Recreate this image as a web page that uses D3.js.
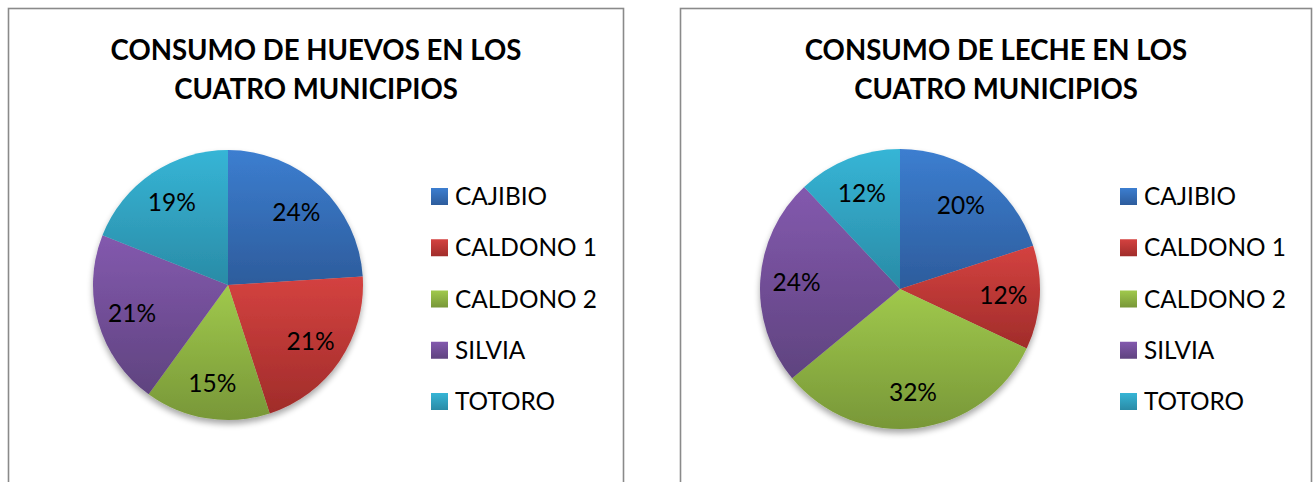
<!DOCTYPE html>
<html>
<head>
<meta charset="utf-8">
<script src="https://cdn.jsdelivr.net/npm/d3@7"></script>
<style>
  html, body { margin: 0; padding: 0; background: #ffffff; }
  svg { display: block; }
</style>
</head>
<body>
<svg id="chart" width="1315" height="482"></svg>
<script>
// Municipalities, shared by both pies and legends
const categories = ["CAJIBIO", "CALDONO 1", "CALDONO 2", "SILVIA", "TOTORO"];

// Egg consumption share (%)
const huevosValues = [24, 21, 15, 21, 19];
// Milk consumption share (%)
const lecheValues = [20, 12, 32, 24, 12];

const huevosTitle = ["CONSUMO DE HUEVOS EN LOS", "CUATRO MUNICIPIOS"];
const lecheTitle = ["CONSUMO DE LECHE EN LOS", "CUATRO MUNICIPIOS"];

// Light (top) and dark (bottom) shade of each slice fill
const colorsTop = ["#3c7ed0", "#d44240", "#a0c94c", "#8359ae", "#36b5d6"];
const colorsBottom = ["#2d5c9c", "#a02c2a", "#789738", "#5f437f", "#2a8ba6"];

const FONT = "Lato, 'Open Sans', sans-serif";
const svg = d3.select("#chart");
const defs = svg.append("defs");

// Vertical gradient per series colour
categories.forEach((c, i) => {
  const g = defs.append("linearGradient")
    .attr("id", "grad" + i)
    .attr("x1", 0).attr("y1", 0).attr("x2", 0).attr("y2", 1);
  g.append("stop").attr("offset", "0%").attr("stop-color", colorsTop[i]);
  g.append("stop").attr("offset", "100%").attr("stop-color", colorsBottom[i]);
});

// Soft shadow underneath the pie
const shadow = defs.append("filter").attr("id", "pieShadow")
  .attr("x", "-10%").attr("y", "-10%").attr("width", "120%").attr("height", "125%");
shadow.append("feGaussianBlur").attr("in", "SourceAlpha").attr("stdDeviation", 3).attr("result", "b");
shadow.append("feOffset").attr("in", "b").attr("dx", 0).attr("dy", 4).attr("result", "o");
shadow.append("feComponentTransfer").attr("in", "o").attr("result", "s")
  .append("feFuncA").attr("type", "linear").attr("slope", 0.35);
const merge = shadow.append("feMerge");
merge.append("feMergeNode").attr("in", "s");
merge.append("feMergeNode").attr("in", "SourceGraphic");

function drawPanel(opts) {
  const { x0, x1, title, values, cx, cy, r, legendX } = opts;
  const g = svg.append("g");

  // Chart area frame (runs past the bottom edge)
  g.append("rect")
    .attr("x", x0).attr("y", 8.5)
    .attr("width", x1 - x0).attr("height", 520)
    .attr("fill", "#ffffff")
    .attr("stroke", "#8a8a8a")
    .attr("stroke-width", 1.6);

  // Title
  const midX = (x0 + x1) / 2;
  const t = g.append("text")
    .attr("x", midX).attr("y", 60)
    .attr("text-anchor", "middle")
    .attr("font-family", FONT)
    .attr("font-weight", 700)
    .attr("font-size", 27.6)
    .attr("fill", "#000");
  title.forEach((line, i) => {
    t.append("tspan").attr("x", midX).attr("dy", i === 0 ? 0 : 38.5).text(line);
  });

  // Pie, clockwise from 12 o'clock
  const pie = d3.pie().sort(null).value(d => d);
  const arcs = pie(values);
  const arc = d3.arc().innerRadius(0).outerRadius(r);
  const labelArc = d3.arc().innerRadius(r * 0.74).outerRadius(r * 0.74);

  const pg = g.append("g").attr("transform", `translate(${cx},${cy})`);
  const slices = pg.append("g").attr("filter", "url(#pieShadow)");
  slices.selectAll("path")
    .data(arcs)
    .join("path")
    .attr("d", arc)
    .attr("fill", (d, i) => `url(#grad${i})`);

  pg.selectAll("text.lbl")
    .data(arcs)
    .join("text")
    .attr("class", "lbl")
    .attr("transform", d => `translate(${labelArc.centroid(d)})`)
    .attr("text-anchor", "middle")
    .attr("dy", "0.36em")
    .attr("font-family", FONT)
    .attr("font-size", 24.5)
    .attr("fill", "#000")
    .text(d => d3.format(".0f")(d.data) + "%");

  // Legend
  const rowY = d3.scalePoint().domain(categories).range([205, 410]);
  const lg = g.append("g");
  const items = lg.selectAll("g")
    .data(categories)
    .join("g")
    .attr("transform", d => `translate(${legendX},${rowY(d)})`);
  items.append("rect")
    .attr("x", 0).attr("y", -17)
    .attr("width", 17).attr("height", 17)
    .attr("fill", (d, i) => `url(#grad${i})`);
  items.append("text")
    .attr("x", 24).attr("y", 0)
    .attr("font-family", FONT)
    .attr("font-size", 24.4)
    .attr("fill", "#000")
    .text(d => d);
}

drawPanel({ x0: 8.5, x1: 623.5, title: huevosTitle, values: huevosValues,
            cx: 228, cy: 285, r: 135, legendX: 431 });
drawPanel({ x0: 680.5, x1: 1311.5, title: lecheTitle, values: lecheValues,
            cx: 900, cy: 289, r: 140, legendX: 1120 });
</script>
</body>
</html>
